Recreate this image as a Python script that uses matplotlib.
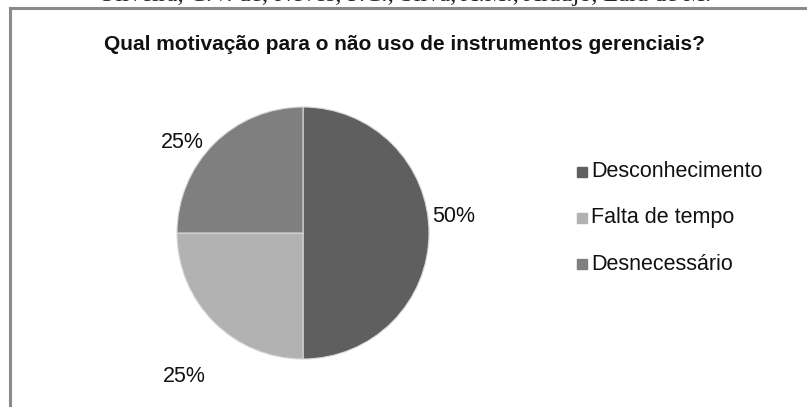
import numpy as np
import matplotlib.pyplot as plt
from matplotlib.lines import Line2D

plt.rcParams['font.family'] = ['Liberation Sans', 'DejaVu Sans']

title = 'Qual motivação para o não uso de instrumentos gerenciais?'
header = 'Oliveira, C.V. de; Neves, F.C.; Silva, A.M.; Araújo, Lara de M.'
categories = ['Desconhecimento', 'Falta de tempo', 'Desnecessário']
shares = [50, 25, 25]
colors = ['#5f5f5f', '#b2b2b2', '#7f7f7f']

W, H = 807, 407
fig = plt.figure(figsize=(W / 100, H / 100), dpi=100)

# page header, mostly cut off at the top
fig.text(405 / W, 1 + 5 / H, header, ha='center', va='center',
         fontsize=17.5, family='Liberation Serif', color='#222222')

# chart frame (only left and top visible)
frame_col = '#8a8a8a'
fig.add_artist(Line2D([10 / W, 10 / W], [0, 1 - 8 / H], color=frame_col, lw=2.2,
                      transform=fig.transFigure))
fig.add_artist(Line2D([10 / W, 1], [1 - 8 / H, 1 - 8 / H], color=frame_col, lw=2.2,
                      transform=fig.transFigure))

fig.text(405 / W, 1 - 45 / H, title, ha='center', va='center',
         fontsize=15, fontweight='bold', color='#111111')

# pie: center (303, 233), radius 126 px
cx, cy, r = 303, 233, 126
ax = fig.add_axes([(cx - r) / W, 1 - (cy + r) / H, 2 * r / W, 2 * r / H])
wedges, _ = ax.pie(shares, colors=colors, startangle=90, counterclock=False,
                   wedgeprops=dict(edgecolor='#d8d8d8', linewidth=0.8))
ax.set_xlim(-1, 1)
ax.set_ylim(-1, 1)
ax.set_aspect('equal')
ax.axis('off')

# percentage labels, placed like the spreadsheet did
label_pos = [(454, 216), (184, 376), (182, 142)]
for val, (px, py) in zip(shares, label_pos):
    ax.text((px - cx) / r, (cy - py) / r, f'{val}%', ha='center', va='center',
            fontsize=15.5, color='#111111', clip_on=False)

# legend
leg_y = [172, 218, 264]
for name, col, ly in zip(categories, colors, leg_y):
    fig.patches.append(plt.Rectangle((577 / W, 1 - (ly + 5) / H), 10 / W, 10 / H,
                                     color=col, transform=fig.transFigure))
    fig.text(591 / W, 1 - ly / H, name, ha='left', va='center',
             fontsize=15.5, color='#111111')

fig.savefig('out.png', dpi=100)
